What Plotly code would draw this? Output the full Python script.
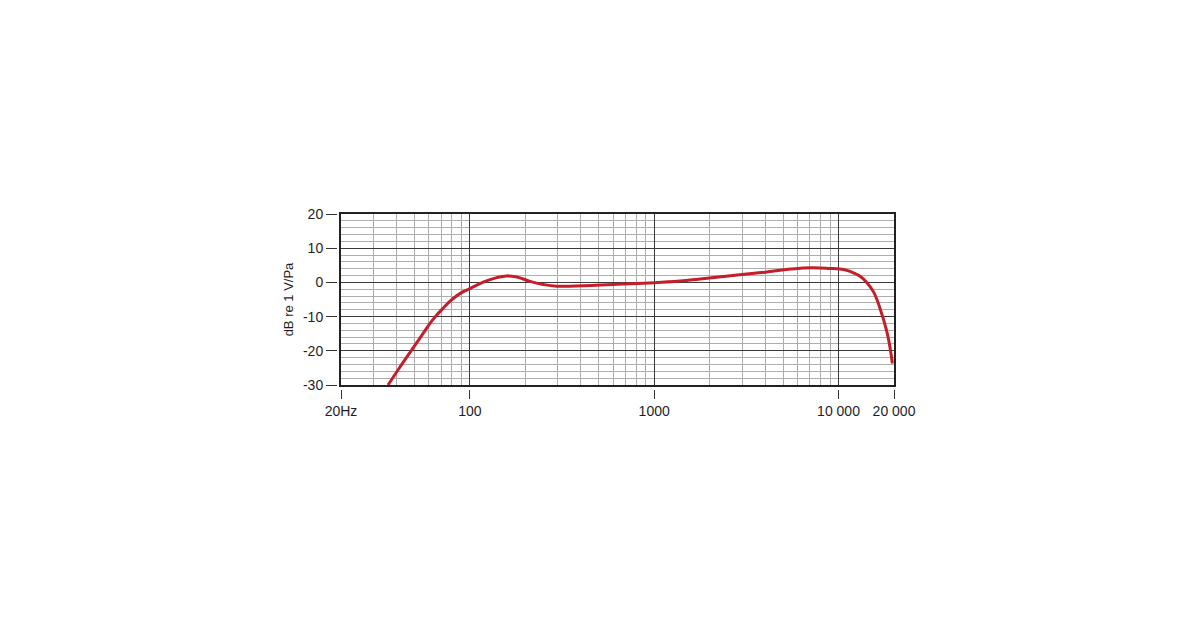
import math
import plotly.graph_objects as go

# Frequency response
freq_hz = [36, 41, 48, 55, 63, 72, 80, 90, 100, 120, 140, 158, 180, 212, 250, 296, 413, 600,
           1000, 1381, 1774, 3000, 4000, 5500, 7200, 9000, 10200, 11090, 12050, 13090, 14230,
           15460, 16800, 18250, 19000, 19600]
level_db = [-30, -25.4, -20, -15.4, -10.9, -7.4, -5.0, -3.0, -1.8, 0.2, 1.4, 1.9, 1.6, 0.3,
            -0.6, -1.1, -1.0, -0.6, -0.1, 0.4, 1.0, 2.3, 3.0, 3.9, 4.3, 4.1, 3.9, 3.5, 2.8,
            1.8, 0.0, -2.7, -7.6, -14.2, -18.8, -23.7]

x_major = [100, 1000, 10000]
x_minor = [30, 40, 50, 60, 70, 80, 90,
           200, 300, 400, 500, 600, 700, 800, 900,
           2000, 3000, 4000, 5000, 6000, 7000, 8000, 9000]
x_label_vals = [20, 100, 1000, 10000, 20000]
x_label_text = ["20Hz", "100", "1000", "10 000", "20 000"]
y_label_vals = [-30, -20, -10, 0, 10, 20]
y_label_text = ["-30", "-20", "-10", "0", "10", "20"]

W, H = 1200, 630
PAGE_OFFSET = 8  # default body margin of the html page
L, R, T, B = 341 - PAGE_OFFSET, 894 - PAGE_OFFSET, 214 - PAGE_OFFSET, 385 - PAGE_OFFSET
xdom = [L / W, R / W]
ydom = [(H - B) / H, (H - T) / H]
xr = [math.log10(20), math.log10(20000)]
yr = [-30, 20]

font = dict(family="Liberation Sans, Arial, sans-serif", size=14, color="#1e1e1e")

fig = go.Figure()
fig.add_trace(go.Scatter(x=freq_hz, y=level_db, mode="lines",
                         line=dict(color="#c41e2a", width=3, shape="spline", smoothing=1.2),
                         hoverinfo="skip", showlegend=False))
# invisible copies to register the offset label axes
fig.add_trace(go.Scatter(x=freq_hz, y=level_db, xaxis="x", yaxis="y2", mode="lines",
                         line=dict(width=0), opacity=0, hoverinfo="skip", showlegend=False))
fig.add_trace(go.Scatter(x=freq_hz, y=level_db, xaxis="x2", yaxis="y", mode="lines",
                         line=dict(width=0), opacity=0, hoverinfo="skip", showlegend=False))

fig.update_layout(
    width=W, height=H, autosize=False,
    margin=dict(l=0, r=0, t=0, b=0, pad=0, autoexpand=False),
    paper_bgcolor="white", plot_bgcolor="white",
    font=font,
    xaxis=dict(type="log", domain=xdom, range=xr, tickvals=x_major, automargin=False,
               showticklabels=False, ticks="", showgrid=True, gridcolor="#3a3a3a",
               gridwidth=1, zeroline=False,
               minor=dict(tickvals=x_minor, showgrid=True, gridcolor="#adadad",
                          gridwidth=1, ticks=""),
               showline=True, mirror=True, linecolor="#222222", linewidth=1.5,
               anchor="y"),
    yaxis=dict(domain=ydom, range=yr, tickvals=[-20, -10, 0, 10], automargin=False,
               showticklabels=False, ticks="", showgrid=True, gridcolor="#3a3a3a",
               gridwidth=1, zeroline=False,
               minor=dict(dtick=2, tick0=0, showgrid=True, gridcolor="#adadad",
                          gridwidth=1, ticks=""),
               showline=True, mirror=True, linecolor="#222222", linewidth=1.5,
               anchor="x"),
    xaxis2=dict(type="log", domain=xdom, range=xr, overlaying="x", anchor="free",
                position=(H - (B + 4)) / H, side="bottom", automargin=False,
                tickmode="array", tickvals=x_label_vals, ticktext=x_label_text,
                ticks="outside", ticklen=9, tickwidth=1, tickcolor="#333333",
                showgrid=False, showline=False, zeroline=False,
                tickfont=font),
    yaxis2=dict(domain=ydom, range=yr, overlaying="y", anchor="free",
                position=(L - 4) / W, side="left", automargin=False,
                tickmode="array", tickvals=y_label_vals, ticktext=y_label_text,
                ticks="outside", ticklen=11, tickwidth=1, tickcolor="#333333",
                showgrid=False, showline=False, zeroline=False,
                tickfont=font,
                title=dict(text="dB re 1 V/Pa", font=dict(size=13, family=font["family"], color="#1e1e1e"),
                           standoff=5)),
)

fig.write_html("out.html")
